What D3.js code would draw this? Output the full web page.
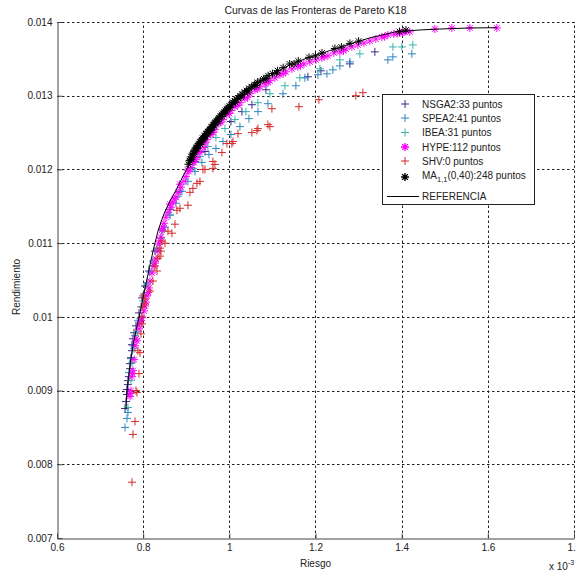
<!DOCTYPE html>
<html>
<head>
<meta charset="utf-8">
<script src="https://cdn.jsdelivr.net/npm/d3@7"></script>
<style>
  body { margin: 0; background: #fff; }
  svg { display: block; font-family: "Liberation Sans", Arial, sans-serif; }
</style>
</head>
<body>
<svg id="chart" width="576" height="571"></svg>
<script>
// Riesgo values are in units of 10^-3 (the axis carries the "x 10^-3" multiplier).
// Each point: [riesgo, rendimiento]

const nsga2 = [
  [0.7578,0.008757],[0.7601,0.008851],[0.7624,0.008946],[0.7624,0.009014],[0.7647,0.009081],
  [0.7647,0.009135],[0.7671,0.009189],[0.7694,0.009297],[0.7694,0.009365],[0.7717,0.009446],
  [0.7740,0.009541],[0.7740,0.009622],[0.7763,0.009703],[0.7787,0.009784],[0.7833,0.009878],
  [0.7903,0.010054],[0.7972,0.010257],[0.8042,0.010419],[0.8135,0.010622],[0.8274,0.010892],
  [0.8436,0.011189],[0.8622,0.011459],[0.8854,0.011703],[0.9202,0.012108],[0.9434,0.012243],
  [1.0037,0.012649],[1.0292,0.012784],[1.0524,0.012878],[1.0849,0.013081],[1.1824,0.013257],
  [1.2125,0.013338],[1.2798,0.013432],[1.3378,0.013595]
];

const spea2 = [
  [0.7578,0.008500],[0.7624,0.008622],[0.7647,0.008703],[0.7671,0.009243],[0.7717,0.009432],
  [0.7763,0.009608],[0.7810,0.009743],[0.7879,0.009946],[0.7949,0.010135],[0.8019,0.010311],
  [0.8088,0.010459],[0.8158,0.010608],[0.8227,0.010757],[0.8320,0.010919],[0.8413,0.011068],
  [0.8506,0.011216],[0.8622,0.011378],[0.8761,0.011541],[0.8900,0.011703],[0.9039,0.011838],
  [0.9202,0.011973],[0.9364,0.012095],[0.9527,0.012203],[0.9689,0.012284],[0.9852,0.012378],
  [1.0037,0.012473],[1.0246,0.012581],[1.0455,0.012689],[1.0664,0.012784],[1.0896,0.012892],
  [1.1244,0.013027],[1.1545,0.013135],[1.1754,0.013243],[1.2056,0.013284],[1.2265,0.013297],
  [1.2404,0.013351],[1.2566,0.013405],[1.2798,0.013459],[1.3680,0.013486],[1.3796,0.013527],
  [1.4237,0.013568]
];

const ibea = [
  [0.7647,0.008770],[0.7717,0.009135],[0.7740,0.009378],[0.7787,0.009568],[0.7856,0.009797],
  [0.7926,0.009973],[0.7995,0.010216],[0.8088,0.010432],[0.8204,0.010689],[0.8320,0.010919],
  [0.8459,0.011162],[0.8622,0.011392],[0.8807,0.011635],[0.8993,0.011838],[0.9155,0.012014],
  [0.9318,0.012176],[0.9503,0.012311],[0.9689,0.012432],[0.9898,0.012554],[1.0130,0.012676],
  [1.0385,0.012784],[1.0664,0.012905],[1.0942,0.013027],[1.1290,0.013135],[1.1638,0.013243],
  [1.2102,0.013365],[1.2566,0.013486],[1.3030,0.013568],[1.3796,0.013662],[1.4005,0.013662],
  [1.4260,0.013689]
];

const hype = [
  [0.7694,0.008919],[0.7717,0.009000],[0.7740,0.009189],[0.7763,0.009270],[0.7810,0.009608],
  [0.7856,0.009676],[0.7903,0.009838],[0.7926,0.009905],[0.7972,0.009986],[0.8019,0.010081],
  [0.8042,0.010149],[0.8088,0.010284],[0.8135,0.010392],[0.8158,0.010486],[0.8204,0.010595],
  [0.8251,0.010689],[0.8297,0.010784],[0.8343,0.010892],[0.8367,0.010986],[0.8413,0.011081],
  [0.8436,0.011176],[0.8483,0.011270],[0.8529,0.011351],[0.8575,0.011419],[0.8645,0.011486],
  [0.8691,0.011554],[0.8761,0.011622],[0.8807,0.011689],[0.8877,0.011757],[0.8947,0.011838],
  [0.8993,0.011905],[0.9063,0.011973],[0.9109,0.012027],[0.9179,0.012095],[0.9248,0.012162],
  [0.9318,0.012230],[0.9411,0.012297],
  [0.9480,0.012405],[0.9573,0.012473],[0.9666,0.012541],[0.9759,0.012622],[0.9852,0.012676],
  [0.9944,0.012743],[1.0037,0.012797],[1.0130,0.012851],[1.0246,0.012905],[1.0362,0.012959],
  [1.0478,0.013027],[1.0594,0.013081],[1.0710,0.013122],[1.0826,0.013162],[1.0942,0.013203],
  [1.1058,0.013243],[1.1174,0.013284],[1.1313,0.013324],[1.1452,0.013365],[1.1592,0.013392],
  [1.1731,0.013432],[1.1870,0.013459],[1.2009,0.013486],[1.2148,0.013514],[1.2288,0.013541],
  [1.2427,0.013581],[1.2566,0.013595],[1.2705,0.013635],[1.2845,0.013662],[1.2984,0.013689],
  [1.3123,0.013716],[1.3262,0.013743],[1.3401,0.013770],[1.3541,0.013797],[1.3680,0.013824],
  [1.3819,0.013838],[1.3958,0.013851],[1.4074,0.013865],[1.4190,0.013865],[1.4770,0.013905],
  [1.5165,0.013919],[1.5582,0.013919],[1.6209,0.013919],
  [0.7750,0.009230],[0.7833,0.009700],[0.8065,0.010200],[0.8274,0.010730],[0.8460,0.011220],
  [0.8620,0.011530],[0.8850,0.011800],[0.9030,0.011990],[0.9150,0.012110],[0.9290,0.012250],
  [0.9440,0.012360],[0.9620,0.012500],[0.9800,0.012640],[1.0000,0.012760],[1.0200,0.012870],
  [1.0420,0.012980],[1.0650,0.013090],[1.0900,0.013180],[1.1250,0.013300],[1.1650,0.013410],
  [1.2200,0.013530],[1.2650,0.013610],[1.3600,0.013800],[1.3900,0.013845],[1.4030,0.013860],
  [0.7700,0.008960],[0.7790,0.009420],[0.7950,0.009950],[0.8120,0.010330],[0.8390,0.011030],
  [0.8720,0.011600],[0.9210,0.012140]
];

const shv = [
  [0.7740,0.007757],[0.7763,0.008405],[0.7810,0.008581],[0.7856,0.008973],[0.7833,0.009000],
  [0.7903,0.009230],[0.7926,0.009514],[0.7879,0.009541],[0.7949,0.009770],[0.7972,0.009905],
  [0.7972,0.010000],[0.7995,0.010135],[0.8042,0.010243],[0.7995,0.010284],[0.8042,0.010176],
  [0.8158,0.010351],[0.8227,0.010486],[0.8274,0.010689],[0.8320,0.010622],[0.8343,0.010797],
  [0.8390,0.010824],[0.8413,0.010892],[0.8390,0.010932],[0.8436,0.011027],[0.8506,0.011000],
  [0.8575,0.011162],[0.8668,0.011135],[0.8738,0.011257],[0.8784,0.011446],[0.8854,0.011473],
  [0.9039,0.011514],[0.9086,0.011689],[0.9155,0.011743],[0.9248,0.011811],[0.9318,0.011838],
  [0.9387,0.012000],[0.9434,0.012000],[0.9619,0.012014],[0.9666,0.012068],[0.9619,0.012108],
  [0.9828,0.012230],[0.9944,0.012351],[1.0060,0.012351],[1.0084,0.012378],[1.0200,0.012486],
  [1.0524,0.012500],[1.0640,0.012527],[1.0664,0.012554],[1.0896,0.012608],[1.0942,0.012581],
  [1.0988,0.012824],[1.1615,0.012851],[1.2079,0.012946],[1.2937,0.013000],[1.3100,0.013041]
];

const ma = [
  [0.905,0.01207],[0.908,0.01212],[0.910,0.01214],[0.912,0.01217],[0.914,0.01220],[0.916,0.01222],
  [0.918,0.01224],[0.920,0.01226],[0.922,0.01228],[0.924,0.01230],[0.926,0.01232],[0.928,0.01233],
  [0.930,0.01235],[0.932,0.01237],[0.934,0.01238],[0.936,0.01240],[0.938,0.01242],[0.940,0.01243],
  [0.942,0.01245],[0.944,0.01246],[0.946,0.01248],[0.948,0.01249],[0.950,0.01251],[0.952,0.01252],
  [0.954,0.01254],[0.956,0.01255],[0.958,0.01257],[0.960,0.01258],[0.962,0.01260],[0.964,0.01261],
  [0.966,0.01263],[0.968,0.01264],[0.970,0.01266],[0.973,0.01268],[0.976,0.01270],[0.979,0.01272],
  [0.982,0.01274],[0.985,0.01276],[0.988,0.01278],[0.991,0.01280],[0.994,0.01282],[0.997,0.01284],
  [1.000,0.01286],[1.004,0.01288],[1.008,0.01291],[1.012,0.01293],[1.016,0.01295],[1.020,0.01297],
  [1.025,0.01300],[1.030,0.01302],[1.035,0.01305],[1.040,0.01307],[1.046,0.01310],[1.052,0.01312],
  [1.058,0.01315],[1.065,0.01318],[1.072,0.01320],[1.080,0.01323],[1.090,0.01327],[1.100,0.01330],
  [1.112,0.01334],[1.125,0.01338],[1.140,0.01343],[1.160,0.01347],[1.185,0.01352],[1.215,0.01358],
  [1.245,0.01364],[1.280,0.01371],[1.300,0.01374],
  [0.912,0.01214],[0.918,0.01221],[0.925,0.01228],[0.933,0.01234],[0.941,0.01241],[0.949,0.01247],
  [0.957,0.01253],[0.965,0.01259],[0.974,0.01265],[0.983,0.01272],[0.992,0.01278],[1.002,0.01284],
  [1.014,0.01291],[1.027,0.01298],[1.043,0.01305],[1.062,0.01314],[1.085,0.01323],[1.110,0.01331],
  [1.150,0.01343],[1.200,0.01354],[1.260,0.01366],[1.395,0.01387],[1.410,0.01389]
];

const referencia = [
  [0.7601,0.008743],[0.7624,0.009000],[0.7694,0.009338],[0.7763,0.009608],[0.7833,0.009811],
  [0.7903,0.009986],[0.7972,0.010189],[0.8065,0.010446],[0.8158,0.010703],[0.8251,0.010946],
  [0.8343,0.011162],[0.8436,0.011324],[0.8529,0.011459],[0.8645,0.011595],[0.8761,0.011716],
  [0.8877,0.011851],[0.8993,0.011986],[0.9109,0.012122],[0.9248,0.012270],[0.9411,0.012419],
  [0.9596,0.012568],[0.9782,0.012703],[1.0014,0.012851],[1.0246,0.012973],[1.0478,0.013095],
  [1.0710,0.013189],[1.1058,0.013311],[1.1406,0.013419],[1.1754,0.013500],[1.2102,0.013568],
  [1.2450,0.013635],[1.2798,0.013703],[1.3262,0.013784],[1.3842,0.013865],[1.4422,0.013892],
  [1.4886,0.013905],[1.5582,0.013919],[1.6209,0.013923]
];

const xTicks = [0.6, 0.8, 1.0, 1.2, 1.4, 1.6, 1.8];
const xTickLabels = ["0.6", "0.8", "1", "1.2", "1.4", "1.6", "1.8"];
const yTicks = [0.007, 0.008, 0.009, 0.010, 0.011, 0.012, 0.013, 0.014];
const yTickLabels = ["0.007", "0.008", "0.009", "0.01", "0.011", "0.012", "0.013", "0.014"];

const seriesNames = ["NSGA2:33 puntos", "SPEA2:41 puntos", "IBEA:31 puntos", "HYPE:112 puntos", "SHV:0 puntos"];
const maLabel = ["MA", "1,1", "(0,40):248 puntos"];
const refLabel = "REFERENCIA";

const titleText = "Curvas de las Fronteras de Pareto K18";
const xLabel = "Riesgo";
const yLabel = "Rendimiento";

// ---- drawing ----
const svg = d3.select("#chart");
const x = d3.scaleLinear().domain([0.6, 1.8]).range([57, 574]);
const y = d3.scaleLinear().domain([0.007, 0.014]).range([538, 22]);

svg.append("rect").attr("width", 576).attr("height", 571).attr("fill", "#fff");

// dotted grid
const grid = svg.append("g").attr("stroke", "#222").attr("stroke-width", 1)
  .attr("stroke-dasharray", "2.5,2.5").attr("fill", "none");
xTicks.slice(1).forEach(t => {
  grid.append("line").attr("x1", Math.round(x(t)) + 0.5).attr("x2", Math.round(x(t)) + 0.5)
    .attr("y1", y(0.007)).attr("y2", y(0.014));
});
yTicks.slice(1).forEach(t => {
  grid.append("line").attr("y1", Math.round(y(t)) + 0.5).attr("y2", Math.round(y(t)) + 0.5)
    .attr("x1", x(0.6)).attr("x2", x(1.8));
});

// axes (ticks pointing inward)
const xAxis = d3.axisBottom(x).tickValues(xTicks).tickFormat((d, i) => xTickLabels[i])
  .tickSizeInner(-5).tickSizeOuter(0).tickPadding(5);
const yAxis = d3.axisLeft(y).tickValues(yTicks).tickFormat((d, i) => yTickLabels[i])
  .tickSizeInner(-5).tickSizeOuter(0).tickPadding(5);

const gx = svg.append("g").attr("transform", "translate(0,538.5)").call(xAxis);
const gy = svg.append("g").attr("transform", "translate(57.5,0)").call(yAxis);
[gx, gy].forEach(g => {
  g.select(".domain").attr("stroke", "#444");
  g.selectAll(".tick line").attr("stroke", "#444");
  g.selectAll(".tick text").attr("fill", "#222").style("font-size", "10px")
    .style("font-family", "'Liberation Sans', Arial, sans-serif");
});

// markers
function plusPath(cx, cy, r) {
  return `M${cx - r},${cy}H${cx + r}M${cx},${cy - r}V${cy + r}`;
}
function starPath(cx, cy, r) {
  const d = r * 0.72;
  return plusPath(cx, cy, r) + `M${cx - d},${cy - d}L${cx + d},${cy + d}M${cx - d},${cy + d}L${cx + d},${cy - d}`;
}

const series = [
  { data: nsga2, color: "#3b2c8c", shape: "plus" },
  { data: spea2, color: "#2f86c4", shape: "plus" },
  { data: ibea,  color: "#3db3aa", shape: "plus" },
  { data: hype,  color: "#ff00ff", shape: "star" },
  { data: shv,   color: "#d42a2a", shape: "plus" },
  { data: ma,    color: "#000000", shape: "star" }
];

series.forEach(s => {
  const g = svg.append("g").attr("stroke", s.color).attr("stroke-width", 1).attr("fill", "none");
  g.selectAll("path").data(s.data).join("path")
    .attr("d", d => (s.shape === "plus" ? plusPath : starPath)(x(d[0]), y(d[1]), 4));
});

// reference frontier
svg.append("path").datum(referencia)
  .attr("fill", "none").attr("stroke", "#000").attr("stroke-width", 1)
  .attr("d", d3.line().x(d => x(d[0])).y(d => y(d[1])));

// title and labels
svg.append("text").attr("x", 315.5).attr("y", 14).attr("text-anchor", "middle")
  .attr("fill", "#222").style("font-size", "10.5px").text(titleText);
svg.append("text").attr("x", 315.5).attr("y", 567).attr("text-anchor", "middle")
  .attr("fill", "#222").style("font-size", "10px").text(xLabel);
svg.append("text").attr("transform", "translate(20,287) rotate(-90)").attr("text-anchor", "middle")
  .attr("fill", "#222").style("font-size", "10px").text(yLabel);

// exponent multiplier for the riesgo axis
const mult = svg.append("text").attr("x", 549).attr("y", 570).attr("fill", "#222").style("font-size", "10px");
mult.append("tspan").text("x 10");
mult.append("tspan").attr("dy", -5).style("font-size", "7px").text("-3");

// legend
const lg = svg.append("g");
lg.append("rect").attr("x", 382.5).attr("y", 94.5).attr("width", 152).attr("height", 110)
  .attr("fill", "#fff").attr("stroke", "#222").attr("stroke-width", 1);
const rowsY = [104, 118, 132.5, 147, 161, 177];
series.forEach((s, i) => {
  lg.append("path").attr("stroke", s.color).attr("fill", "none").attr("stroke-width", s.shape === "star" ? 1.4 : 1)
    .attr("d", (s.shape === "plus" ? plusPath : starPath)(405, rowsY[i], 4));
});
seriesNames.forEach((t, i) => {
  lg.append("text").attr("x", 422).attr("y", rowsY[i] + 3.5).attr("fill", "#222")
    .style("font-size", "10px").text(t);
});
const maText = lg.append("text").attr("x", 422).attr("y", rowsY[5] + 1.5).attr("fill", "#222").style("font-size", "10px");
maText.append("tspan").text(maLabel[0]);
maText.append("tspan").attr("dy", 3).style("font-size", "7.5px").text(maLabel[1]);
maText.append("tspan").attr("dy", -3).text(maLabel[2]);
lg.append("line").attr("x1", 387).attr("x2", 419).attr("y1", 196.5).attr("y2", 196.5)
  .attr("stroke", "#000").attr("stroke-width", 1);
lg.append("text").attr("x", 422).attr("y", 200).attr("fill", "#222").style("font-size", "10px").text(refLabel);
</script>
</body>
</html>
